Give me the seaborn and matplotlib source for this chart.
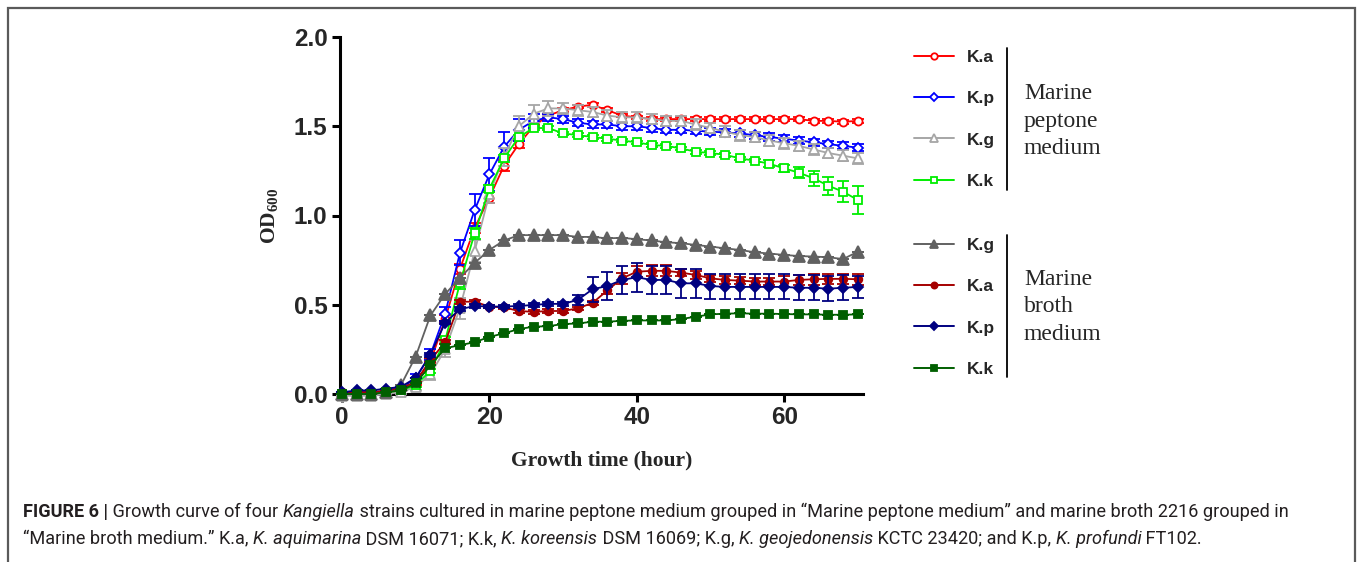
import numpy as np
import pandas as pd
import matplotlib
matplotlib.use("Agg")
import matplotlib.pyplot as plt
import seaborn as sns
from matplotlib.lines import Line2D
from matplotlib.patches import Rectangle

# ---------------- data ----------------
hours = [0, 2, 4, 6, 8, 10, 12, 14, 16, 18, 20, 22, 24, 26, 28, 30, 32, 34,
         36, 38, 40, 42, 44, 46, 48, 50, 52, 54, 56, 58, 60, 62, 64, 66, 68, 70]

pep_ka = [0.00, 0.01, 0.01, 0.01, 0.02, 0.06, 0.18, 0.42, 0.70, 0.93, 1.10, 1.28, 1.40, 1.50, 1.56, 1.59,
          1.61, 1.62, 1.59, 1.56, 1.55, 1.54, 1.54, 1.54, 1.54, 1.54, 1.54, 1.54, 1.54, 1.54, 1.54, 1.54,
          1.53, 1.53, 1.525, 1.53]
pep_kp = [0.00, 0.01, 0.01, 0.01, 0.03, 0.09, 0.22, 0.45, 0.79, 1.03, 1.23, 1.385, 1.48, 1.53, 1.55, 1.54,
          1.52, 1.51, 1.51, 1.50, 1.50, 1.49, 1.48, 1.48, 1.475, 1.47, 1.465, 1.46, 1.45, 1.44, 1.43, 1.42,
          1.41, 1.40, 1.39, 1.38]
pep_kg = [-0.01, -0.01, -0.01, 0.00, 0.01, 0.04, 0.11, 0.25, 0.48, 0.80, 1.12, 1.33, 1.50, 1.57, 1.60, 1.60,
          1.59, 1.58, 1.56, 1.55, 1.55, 1.54, 1.53, 1.53, 1.51, 1.49, 1.47, 1.45, 1.44, 1.42, 1.405, 1.39,
          1.37, 1.35, 1.335, 1.32]
pep_kk = [0.00, 0.00, 0.00, 0.01, 0.02, 0.05, 0.13, 0.30, 0.62, 0.90, 1.15, 1.32, 1.44, 1.49, 1.49, 1.46,
          1.45, 1.44, 1.43, 1.42, 1.41, 1.395, 1.39, 1.376, 1.357, 1.35, 1.34, 1.32, 1.307, 1.29, 1.264, 1.24,
          1.208, 1.167, 1.133, 1.087]
bro_kg = [0.00, 0.00, 0.00, 0.01, 0.05, 0.21, 0.44, 0.56, 0.65, 0.735, 0.807, 0.86, 0.89, 0.89, 0.89, 0.89,
          0.88, 0.88, 0.872, 0.875, 0.867, 0.86, 0.85, 0.845, 0.835, 0.826, 0.816, 0.807, 0.794, 0.787, 0.779,
          0.773, 0.77, 0.766, 0.756, 0.797]
bro_ka = [0.01, 0.01, 0.01, 0.02, 0.03, 0.07, 0.19, 0.29, 0.517, 0.517, 0.49, 0.485, 0.465, 0.46, 0.465, 0.465,
          0.48, 0.51, 0.58, 0.648, 0.685, 0.69, 0.69, 0.68, 0.667, 0.648, 0.639, 0.635, 0.63, 0.63, 0.63,
          0.639, 0.643, 0.645, 0.645, 0.643]
bro_kp = [0.01, 0.02, 0.02, 0.03, 0.04, 0.09, 0.22, 0.40, 0.475, 0.493, 0.49, 0.49, 0.493, 0.499, 0.505, 0.505,
          0.527, 0.587, 0.605, 0.639, 0.654, 0.639, 0.639, 0.62, 0.62, 0.605, 0.60, 0.60, 0.60, 0.60, 0.60,
          0.595, 0.595, 0.59, 0.595, 0.60]
bro_kk = [0.00, 0.00, 0.00, 0.01, 0.02, 0.06, 0.16, 0.256, 0.274, 0.29, 0.32, 0.34, 0.364, 0.377, 0.38, 0.392,
          0.395, 0.405, 0.405, 0.41, 0.412, 0.412, 0.412, 0.42, 0.433, 0.446, 0.45, 0.452, 0.45, 0.45, 0.448,
          0.446, 0.446, 0.444, 0.444, 0.446]

pep_ka_err = [0.0, 0.0, 0.0, 0.0, 0.0, 0.01, 0.01, 0.02, 0.03, 0.03, 0.03, 0.03, 0.02, 0.01, 0.01, 0.01,
              0.01, 0.01, 0.01, 0.01, 0.01, 0.01, 0.01, 0.01, 0.01, 0.01, 0.01, 0.01, 0.01, 0.01, 0.01, 0.01,
              0.01, 0.01, 0.01, 0.01]
pep_kp_err = [0.0, 0.0, 0.0, 0.0, 0.01, 0.02, 0.03, 0.04, 0.07, 0.09, 0.09, 0.08, 0.06, 0.04, 0.02, 0.02,
              0.02, 0.02, 0.02, 0.02, 0.02, 0.02, 0.02, 0.02, 0.02, 0.02, 0.02, 0.02, 0.02, 0.02, 0.02, 0.02,
              0.02, 0.02, 0.02, 0.02]
pep_kg_err = [0.0, 0.0, 0.0, 0.0, 0.01, 0.02, 0.03, 0.04, 0.06, 0.06, 0.05, 0.05, 0.06, 0.05, 0.04, 0.03,
              0.03, 0.03, 0.03, 0.03, 0.03, 0.03, 0.03, 0.03, 0.03, 0.03, 0.03, 0.03, 0.03, 0.03, 0.03, 0.03,
              0.03, 0.03, 0.03, 0.03]
pep_kk_err = [0.0, 0.0, 0.0, 0.0, 0.0, 0.01, 0.01, 0.02, 0.03, 0.03, 0.02, 0.02, 0.01, 0.01, 0.01, 0.01,
              0.01, 0.01, 0.01, 0.01, 0.01, 0.01, 0.01, 0.01, 0.01, 0.01, 0.01, 0.01, 0.01, 0.02, 0.02, 0.03,
              0.04, 0.05, 0.06, 0.08]
bro_kg_err = [0.0] * 36
bro_ka_err = [0.0, 0.0, 0.0, 0.0, 0.0, 0.0, 0.01, 0.01, 0.01, 0.01, 0.01, 0.01, 0.01, 0.01, 0.01, 0.01,
              0.01, 0.01, 0.02, 0.03, 0.03, 0.03, 0.03, 0.02, 0.02, 0.02, 0.02, 0.02, 0.02, 0.02, 0.03, 0.03,
              0.03, 0.03, 0.03, 0.03]
bro_kp_err = [0.0, 0.0, 0.0, 0.0, 0.0, 0.0, 0.01, 0.01, 0.01, 0.01, 0.01, 0.01, 0.01, 0.01, 0.01, 0.01,
              0.03, 0.07, 0.08, 0.08, 0.08, 0.08, 0.08, 0.08, 0.08, 0.07, 0.07, 0.07, 0.07, 0.07, 0.07, 0.07,
              0.07, 0.07, 0.07, 0.06]
bro_kk_err = [0.0] * 36

x_ticks = [0, 20, 40, 60]
y_ticks = [0.0, 0.5, 1.0, 1.5, 2.0]
y_tick_labels = ["0.0", "0.5", "1.0", "1.5", "2.0"]
x_label = "Growth time (hour)"
y_label = r"$\mathrm{OD_{600}}$"
group_names = ["Marine\npeptone\nmedium", "Marine\nbroth\nmedium"]
pep_labels = ["K.a", "K.p", "K.g", "K.k"]
bro_labels = ["K.g", "K.a", "K.p", "K.k"]

# ---------------- style ----------------
sns.set_style("ticks")
plt.rcParams["font.family"] = ["Liberation Sans", "DejaVu Sans"]
plt.rcParams["mathtext.fontset"] = "custom"
plt.rcParams["mathtext.rm"] = "Liberation Serif:bold"
plt.rcParams["mathtext.it"] = "Liberation Serif:bold"
plt.rcParams["mathtext.bf"] = "Liberation Serif:bold"

W, H = 1357, 562
fig = plt.figure(figsize=(W / 100, H / 100), dpi=100)
fig.patch.set_facecolor("white")

ax_l, ax_r, ax_t, ax_b = 340, 863, 37, 394
ax = fig.add_axes([ax_l / W, 1 - ax_b / H, (ax_r - ax_l) / W, (ax_b - ax_t) / H])
ax.set_facecolor("white")

pep_series = [
    (pep_ka, pep_ka_err, "#FF0000", "o", 5.8, False),
    (pep_kp, pep_kp_err, "#0000FF", "D", 5.0, False),
    (pep_kg, pep_kg_err, "#A6A6A6", "^", 7.5, False),
    (pep_kk, pep_kk_err, "#00EE00", "s", 5.5, False),
]
bro_series = [
    (bro_kg, bro_kg_err, "#616161", "^", 8.0, True),
    (bro_ka, bro_ka_err, "#A50000", "o", 5.5, True),
    (bro_kp, bro_kp_err, "#000080", "D", 4.8, True),
    (bro_kk, bro_kk_err, "#005F00", "s", 5.2, True),
]

z = 3
for vals, errs, c, m, ms, filled in pep_series + bro_series:
    df = pd.DataFrame({"hour": hours, "od": vals})
    ax.errorbar(hours, vals, yerr=errs, fmt="none", ecolor=c, elinewidth=1.3,
                capsize=4, capthick=1.3, clip_on=False, zorder=z)
    sns.lineplot(data=df, x="hour", y="od", ax=ax, color=c, linewidth=1.3,
                 marker=m, markersize=ms, markerfacecolor=(c if filled else "white"),
                 markeredgecolor=c, markeredgewidth=1.3, errorbar=None,
                 clip_on=False, zorder=z + 0.5)
    z += 1

ax.set_xlim(-0.27, 70.7)
ax.set_ylim(0, 2.0)
ax.set_xticks(x_ticks)
ax.set_xticklabels([str(v) for v in x_ticks])
ax.set_yticks(y_ticks)
ax.set_yticklabels(y_tick_labels)
sns.despine(ax=ax)
for s in ["left", "bottom"]:
    ax.spines[s].set_linewidth(2.2)
    ax.spines[s].set_color("black")
ax.tick_params(axis="both", direction="out", length=6, width=2.2, color="black",
               labelsize=17.5, pad=3)
for lab in ax.get_xticklabels() + ax.get_yticklabels():
    lab.set_fontweight("bold")
ax.set_xlabel(x_label, family="Liberation Serif", fontweight="bold", fontsize=15.5, labelpad=15)
ax.set_ylabel(y_label, fontsize=15.5, labelpad=10)

# ---------------- legends ----------------
def handles_for(series):
    hs = []
    for vals, errs, c, m, ms, filled in series:
        hs.append(Line2D([], [], color=c, lw=1.4, marker=m, markersize=ms * 0.8,
                         markerfacecolor=(c if filled else "white"), markeredgecolor=c,
                         markeredgewidth=1.3))
    return hs

leg_kw = dict(frameon=False, borderpad=0, borderaxespad=0, handlelength=2.3,
              handletextpad=0.75, labelspacing=1.5,
              prop={"weight": "bold", "size": 12.5, "family": "Liberation Sans"})
fig.legend(handles_for(pep_series), pep_labels, loc="upper left",
           bbox_to_anchor=(914 / W, 1 - 50 / H), **leg_kw)
fig.legend(handles_for(bro_series), bro_labels, loc="upper left",
           bbox_to_anchor=(914 / W, 1 - 238 / H), **leg_kw)

fig.add_artist(Line2D([1007 / W, 1007 / W], [1 - 48 / H, 1 - 190 / H], color="black", lw=1.3))
fig.add_artist(Line2D([1007 / W, 1007 / W], [1 - 235 / H, 1 - 377 / H], color="black", lw=1.3))
fig.text(1024 / W, 1 - 121 / H, group_names[0], family="Liberation Serif", fontsize=17,
         va="center", ha="left", linespacing=1.42)
fig.text(1024 / W, 1 - 307 / H, group_names[1], family="Liberation Serif", fontsize=17,
         va="center", ha="left", linespacing=1.42)

# ---------------- frame & caption ----------------
fig.add_artist(Rectangle((8 / W, -0.05), (1355 - 8) / W, 1 - 8 / H + 0.05,
                         transform=fig.transFigure, fill=False, edgecolor="#5a5a5a", lw=1.6))

cap_lines = [
    [("FIGURE 6 |", "bold", "normal"), (" Growth curve of four ", "normal", "normal"),
     ("Kangiella", "normal", "italic"),
     (" strains cultured in marine peptone medium grouped in \u201cMarine peptone medium\u201d and marine broth 2216 grouped in",
      "normal", "normal")],
    [("\u201cMarine broth medium.\u201d K.a, ", "normal", "normal"), ("K. aquimarina", "normal", "italic"),
     (" DSM 16071; K.k, ", "normal", "normal"), ("K. koreensis", "normal", "italic"),
     (" DSM 16069; K.g, ", "normal", "normal"), ("K. geojedonensis", "normal", "italic"),
     (" KCTC 23420; and K.p, ", "normal", "normal"), ("K. profundi", "normal", "italic"),
     (" FT102.", "normal", "normal")],
]
renderer = fig.canvas.get_renderer()
cap_y = [517, 544]
for line, yb in zip(cap_lines, cap_y):
    x = 23
    for txt, wt, st in line:
        t = fig.text(x / W, 1 - yb / H, txt, fontsize=13.05, fontweight=wt, fontstyle=st,
                     family="Roboto", color="#231f20", va="baseline", ha="left")
        bb = t.get_window_extent(renderer=renderer)
        x += bb.width

fig.savefig("out.png", dpi=100, facecolor="white")
